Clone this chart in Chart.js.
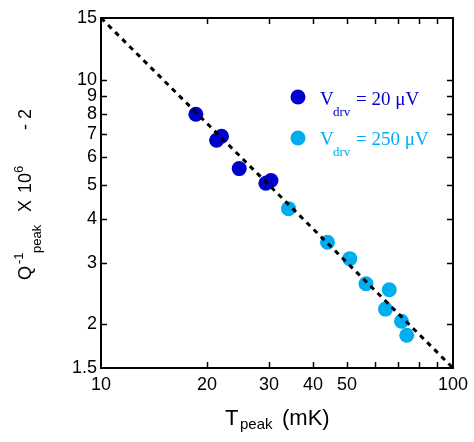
<!DOCTYPE html>
<html>
<head>
<meta charset="utf-8">
<script src="https://cdn.jsdelivr.net/npm/chart.js@4"></script>
<style>
html, body { margin: 0; padding: 0; background: #fff; }
#wrap { width: 474px; height: 442px; }
</style>
</head>
<body>
<div id="wrap"><canvas id="chart"></canvas></div>
<script>
// data
const lowT = [18.6, 21.3, 22.0, 24.7, 29.4, 30.4];
const lowQ = [7.96, 6.71, 6.89, 5.57, 5.06, 5.15];
const highT = [34.1, 44.0, 50.9, 56.6, 64.3, 65.9, 71.4, 73.9];
const highQ = [4.28, 3.43, 3.08, 2.61, 2.21, 2.51, 2.04, 1.86];
const fitT = [10, 100];
const fitQ = [15, 1.5];
const xTicks = [10, 20, 30, 40, 50, 60, 70, 80, 90, 100];
const xLabels = [10, 20, 30, 40, 50, 100];
const yTicks = [1.5, 2, 3, 4, 5, 6, 7, 8, 9, 10, 15];

const darkBlue = '#0000cc';
const lightBlue = '#00aeef';
const sans = '"Liberation Sans", Arial, sans-serif';
const serif = '"Liberation Serif", "Times New Roman", serif';

const toPoints = (xs, ys) => xs.map((x, i) => ({ x: x, y: ys[i] }));

// draw a row of text pieces: [text, offset, size, dy, font]
function drawPieces(ctx, pieces, color) {
    ctx.fillStyle = color;
    ctx.textBaseline = 'alphabetic';
    ctx.textAlign = 'left';
    pieces.forEach(p => {
        ctx.font = p[2] + 'px ' + (p[4] || sans);
        ctx.fillText(p[0], p[1], p[3]);
    });
}

const decorPlugin = {
    id: 'decor',
    afterDraw(chart) {
        const ctx = chart.ctx;
        const a = chart.chartArea;
        const xs = chart.scales.x, ys = chart.scales.y;
        ctx.save();
        // frame
        ctx.strokeStyle = '#000';
        ctx.lineWidth = 2;
        ctx.strokeRect(a.left, a.top, a.right - a.left, a.bottom - a.top);
        // inward ticks
        ctx.lineWidth = 1.5;
        ctx.beginPath();
        xTicks.slice(1, -1).forEach(v => {
            const px = Math.round(xs.getPixelForValue(v)) + 0.5;
            ctx.moveTo(px, a.bottom); ctx.lineTo(px, a.bottom - 6);
            ctx.moveTo(px, a.top); ctx.lineTo(px, a.top + 6);
        });
        yTicks.slice(1, -1).forEach(v => {
            const py = Math.round(ys.getPixelForValue(v)) + 0.5;
            ctx.moveTo(a.left, py); ctx.lineTo(a.left + 6, py);
            ctx.moveTo(a.right, py); ctx.lineTo(a.right - 6, py);
        });
        ctx.stroke();

        // x title
        ctx.save();
        ctx.translate(225, 425);
        drawPieces(ctx, [['T', 0, 22, 0], ['peak', 15, 15, 4], ['(mK)', 57, 22, 0]], '#000');
        ctx.restore();

        // y title
        ctx.save();
        ctx.translate(31, 280);
        ctx.rotate(-Math.PI / 2);
        drawPieces(ctx, [
            ['Q', 0, 18, 0], ['-1', 16, 13, -8], ['peak', 27, 13, 10],
            ['X', 68, 18, 0], ['10', 87, 18, 0], ['6', 107, 13, -8],
            ['- 2', 150, 18, 0]
        ], '#000');
        ctx.restore();

        // legend
        const rows = [[darkBlue, 97, 105, '= 20 \u03bcV'], [lightBlue, 138, 145, '= 250 \u03bcV']];
        rows.forEach(r => {
            ctx.fillStyle = r[0];
            ctx.beginPath();
            ctx.arc(298, r[1], 7.5, 0, Math.PI * 2);
            ctx.fill();
            ctx.save();
            ctx.translate(320, r[2]);
            drawPieces(ctx, [['V', 0, 19, 0, serif], ['drv', 13, 13, 11, serif], [r[3], 36, 19, 0, serif]], r[0]);
            ctx.restore();
        });
        ctx.restore();
    }
};

new Chart(document.getElementById('chart'), {
    type: 'scatter',
    data: {
        datasets: [
            {
                type: 'line',
                data: toPoints(fitT, fitQ),
                borderColor: '#000',
                borderWidth: 3,
                borderDash: [5, 5],
                pointRadius: 0,
                fill: false,
                order: 0
            },
            {
                data: toPoints(lowT, lowQ),
                backgroundColor: darkBlue,
                borderWidth: 0,
                pointRadius: 7.5,
                order: 1
            },
            {
                data: toPoints(highT, highQ),
                backgroundColor: lightBlue,
                borderWidth: 0,
                pointRadius: 7.5,
                order: 2
            }
        ]
    },
    options: {
        responsive: true,
        maintainAspectRatio: false,
        animation: false,
        events: [],
        layout: { padding: { top: 18, right: 19, left: 0, bottom: 0 } },
        plugins: { legend: false, tooltip: { enabled: false } },
        scales: {
            x: {
                type: 'logarithmic',
                min: 10,
                max: 100,
                afterBuildTicks: scale => { scale.ticks = xTicks.map(v => ({ value: v })); },
                afterFit: scale => { scale.height = 74; },
                grid: { display: false, drawTicks: false },
                border: { display: false },
                ticks: {
                    autoSkip: false,
                    maxRotation: 0,
                    padding: 6,
                    color: '#000',
                    font: { family: sans, size: 18 },
                    callback: v => xLabels.includes(v) ? String(v) : ''
                }
            },
            y: {
                type: 'logarithmic',
                min: 1.5,
                max: 15,
                afterBuildTicks: scale => { scale.ticks = yTicks.map(v => ({ value: v })); },
                afterFit: scale => { scale.width = 101; },
                grid: { display: false, drawTicks: false },
                border: { display: false },
                ticks: {
                    autoSkip: false,
                    padding: 4,
                    color: '#000',
                    font: { family: sans, size: 18 },
                    callback: v => yTicks.includes(v) ? String(v) : ''
                }
            }
        }
    },
    plugins: [decorPlugin]
});
</script>
</body>
</html>
